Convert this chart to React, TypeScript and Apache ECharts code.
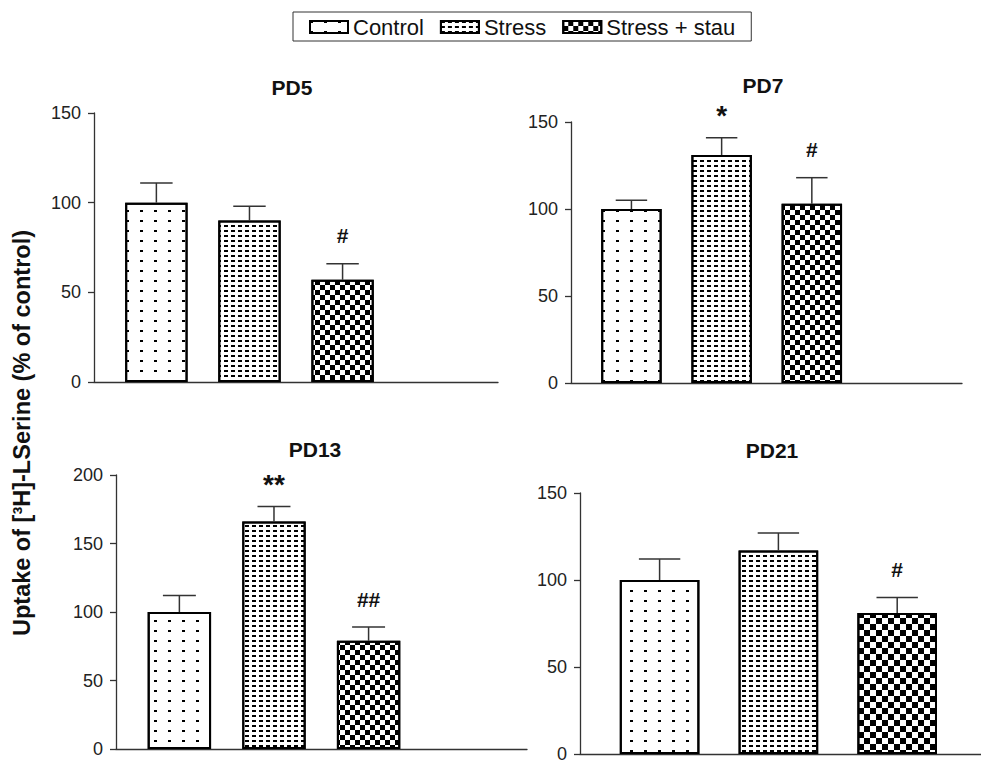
import React, { useEffect, useRef } from "react";
import * as echarts from "echarts";

// ---- data ----
const categories = ["Control", "Stress", "Stress + stau"];
const panels = ["PD5", "PD7", "PD13", "PD21"];
const controlMean = [100, 100, 100, 100];
const stressMean = [90, 131, 166, 117];
const stauMean = [57, 103, 79, 81];
// upper end of the error bar (mean + SEM)
const controlErr = [111, 105, 112, 112];
const stressErr = [98, 141, 177, 127];
const stauErr = [66, 118, 89, 90];
// significance marks
const controlMark = ["", "", "", ""];
const stressMark = ["", "*", "**", ""];
const stauMark = ["#", "#", "##", "#"];
const yMax = [150, 150, 200, 150];
const yInterval = 50;
const yTitle = "Uptake of [³H]-LSerine (% of control)";

// ---- layout ----
// band = pixel distance between neighbouring bars; axisEnd = right end of the x axis line
const grids = [
  { left: 94, top: 113, height: 269, band: 93.1, axisEnd: 498 },
  { left: 571, top: 122, height: 261, band: 90.2, axisEnd: 962 },
  { left: 116, top: 475, height: 274, band: 94.6, axisEnd: 527 },
  { left: 580, top: 493, height: 264, band: 118.8, axisEnd: 981 },
];
const checkerCell = [5, 5, 5, 6];
const titlePos = [
  [292, 87],
  [763, 85],
  [315, 449],
  [772, 450],
];
const X_MIN = 0.33;
const FONT = "Liberation Sans, Arial, Helvetica, sans-serif";

function decalFor(i: number, p: number): any {
  if (i === 0)
    return { symbol: "rect", symbolSize: 1, dashArrayX: [3, 11], dashArrayY: [2, 8], color: "#000", backgroundColor: "#fff" };
  if (i === 1)
    return { symbol: "rect", symbolSize: 1, dashArrayX: [4, 3], dashArrayY: [2, 3], color: "#000", backgroundColor: "#fff" };
  const c = checkerCell[p];
  return { symbol: "rect", symbolSize: 1, dashArrayX: [[c, c], [0, c, c, 0]], dashArrayY: [c, 0], color: "#000", backgroundColor: "#fff" };
}

export default function App() {
  const ref = useRef<HTMLDivElement>(null);
  useEffect(() => {
    if (!ref.current) return;
    const chart = echarts.init(ref.current, undefined, { renderer: "svg" });
    const means = [controlMean, stressMean, stauMean];
    const errs = [controlErr, stressErr, stauErr];
    const marks = [controlMark, stressMark, stauMark];

    const series: any[] = [];
    panels.forEach((_, p) => {
      const g = grids[p];
      const barW = g.band * 0.67;
      categories.forEach((c, i) => {
        series.push({
          type: "bar",
          name: c,
          xAxisIndex: p,
          yAxisIndex: p,
          barWidth: barW,
          barGap: "-100%",
          data: [[i + 1, means[i][p]]],
          itemStyle: { color: "#fff", borderColor: "#000", borderWidth: 2, decal: decalFor(i, p) },
          emphasis: { disabled: true },
        });
      });
      series.push({
        type: "custom",
        name: "err" + p,
        xAxisIndex: p,
        yAxisIndex: p,
        data: categories.map((c, i) => [i + 1, means[i][p], errs[i][p]]),
        renderItem: (params: any, api: any) => {
          const x = api.value(0);
          const y = api.value(1);
          const e = api.value(2);
          const base = api.coord([x, y]);
          const top = api.coord([x, e]);
          const capHalf = api.size([1, 0])[0] * 0.67 * 0.26;
          const mark = marks[params.dataIndex][p];
          const children: any[] = [
            { type: "line", shape: { x1: base[0], y1: base[1], x2: top[0], y2: top[1] }, style: { stroke: "#333", lineWidth: 1.5 } },
            { type: "line", shape: { x1: top[0] - capHalf, y1: top[1], x2: top[0] + capHalf, y2: top[1] }, style: { stroke: "#333", lineWidth: 1.5 } },
          ];
          if (mark) {
            const star = mark.indexOf("*") >= 0;
            children.push({
              type: "text",
              style: {
                text: mark,
                x: top[0],
                y: top[1] - (star ? 22 : 28),
                align: "center",
                verticalAlign: "middle",
                fontFamily: FONT,
                fontWeight: "bold",
                fontSize: star ? 28 : 21,
                fill: "#111",
              },
            });
          }
          return { type: "group", children };
        },
        z: 3,
      });
    });

    const option: any = {
      animation: false,
      backgroundColor: "#fff",
      legend: {
        data: categories,
        left: 293,
        top: 12,
        icon: "rect",
        itemWidth: 38,
        itemHeight: 12,
        itemGap: 16,
        padding: [4, 16, 3, 16],
        borderColor: "#333",
        borderWidth: 1,
        textStyle: { fontFamily: FONT, fontSize: 22, color: "#111" },
      },
      grid: grids.map((g) => ({ left: g.left, top: g.top, height: g.height, width: g.axisEnd - g.left, containLabel: false })),
      xAxis: grids.map((g, p) => ({
        type: "value",
        gridIndex: p,
        min: X_MIN,
        max: X_MIN + (g.axisEnd - g.left) / g.band,
        axisLine: { show: true, onZero: false, lineStyle: { color: "#333", width: 1.3 } },
        axisTick: { show: false },
        axisLabel: { show: false },
        splitLine: { show: false },
      })),
      yAxis: grids.map((_, p) => ({
        type: "value",
        gridIndex: p,
        min: 0,
        max: yMax[p],
        interval: yInterval,
        axisLine: { show: true, lineStyle: { color: "#333", width: 1.3 } },
        axisTick: { show: true, length: 6, lineStyle: { color: "#333", width: 1.3 } },
        axisLabel: { fontFamily: FONT, fontSize: 18, color: "#222", margin: 13 },
        splitLine: { show: false },
      })),
      graphic: [
        ...panels.map((t, p) => ({
          type: "text",
          x: titlePos[p][0],
          y: titlePos[p][1],
          style: {
            text: t,
            align: "center",
            verticalAlign: "middle",
            fontFamily: FONT,
            fontWeight: "bold",
            fontSize: 21,
            fill: "#111",
          },
        })),
        {
          type: "text",
          x: 22,
          y: 433,
          rotation: Math.PI / 2,
          style: {
            text: yTitle,
            align: "center",
            verticalAlign: "middle",
            fontFamily: FONT,
            fontWeight: "bold",
            fontSize: 23.5,
            fill: "#111",
          },
        },
      ],
      series,
    };
    chart.setOption(option);
    return () => chart.dispose();
  }, []);
  return (
    <div
      ref={ref}
      style={{ position: "fixed", left: 0, top: 0, width: 981, height: 763, background: "#fff" }}
    />
  );
}
